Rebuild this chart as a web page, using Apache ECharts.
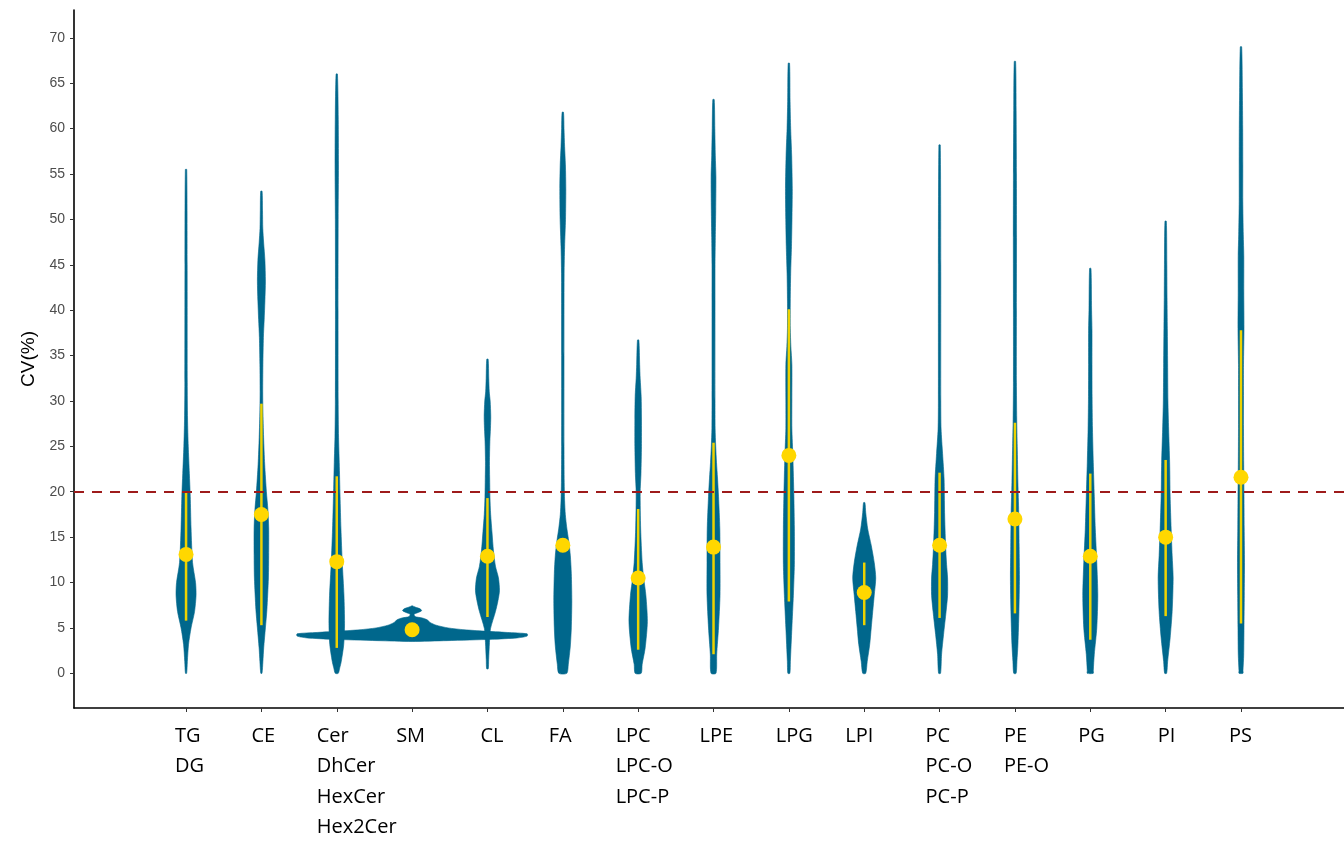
<!DOCTYPE html>
<html>
<head>
<meta charset="utf-8">
<script src="https://cdn.jsdelivr.net/npm/echarts@6/dist/echarts.min.js"></script>
<style>html,body{margin:0;padding:0;background:#fff;overflow:hidden}#chart{width:1344px;height:843px}</style>
</head>
<body>
<div id="chart"></div>
<script>
// ---------------- DATA ----------------
const categories = ['TG\nDG', 'CE', 'Cer\nDhCer\nHexCer\nHex2Cer', 'SM', 'CL', 'FA', 'LPC\nLPC-O\nLPC-P', 'LPE', 'LPG', 'LPI', 'PC\nPC-O\nPC-P', 'PE\nPE-O', 'PG', 'PI', 'PS'];
const yTickValues = [0, 5, 10, 15, 20, 25, 30, 35, 40, 45, 50, 55, 60, 65, 70];
const thresholdCV = 20;

// violin density profiles: [CV value, relative density (half-width)]
const densityTG = [[0,0.6],[1.3,1.3],[3.2,2.5],[5,5],[6.8,8.5],[8.6,10],[10,9.5],[12.2,6.5],[16,5],[19.5,4.2],[22,3.3],[25,2.2],[28,1.5],[32,1.2],[45,1.1],[55.5,0.7]];
const densityCE = [[0,0.6],[1.3,1.5],[2.8,2.3],[5,4],[7,5.5],[10.5,7],[13,7.3],[16,7.3],[18,6.5],[20,5],[23,3.3],[26,2.2],[29,1.5],[31,1.3],[34,1.5],[37,2],[39,2.8],[41,3.5],[43.2,4],[45.5,3.5],[47.5,2.2],[49,1.4],[51,1.1],[53.1,0.7]];
const densityCer = [[0,1.5],[0.6,3],[1.3,4.5],[3.2,7],[5.5,7.8],[8.6,7.2],[12.2,5.5],[15.9,4.2],[19.5,3.3],[23.2,2.5],[26,1.8],[30,1.4],[40,1.3],[50,1.4],[56,1.7],[61,1.5],[66,0.7]];
const densitySM = [[3.5,0],[3.6,35],[3.75,80],[3.9,105],[4.1,115],[4.35,115],[4.5,95],[4.65,72],[4.8,52],[5.0,36],[5.3,24],[5.6,18],[5.9,15],[6.1,10],[6.25,3],[6.5,2],[6.7,6],[6.9,9.5],[7.1,8],[7.3,3],[7.45,0]];
const densityCL = [[0.5,0.8],[1.5,1.2],[3.4,2],[4.9,3],[6.8,8],[8,10.5],[9.1,12],[10.5,11],[11.8,8],[13.5,6],[15.6,4.5],[17.5,3.2],[19.4,2.5],[21.5,2.2],[23.3,2],[25.5,2.4],[27,3],[28.3,3.3],[30,2.7],[31,1.8],[32.5,1.3],[34.6,0.7]];
const densityFA = [[0,4],[1,5.5],[3,7.5],[5,8.5],[8,9],[11,8.5],[13,7.5],[14.5,6],[16,4],[17.5,2.5],[19,1.8],[21,1.4],[25,1.2],[35,1.2],[44,1.3],[47,1.8],[50,2.7],[53.4,3],[56,2.6],[58,1.8],[60,1.2],[61.8,0.7]];
const densityLPC = [[0,3],[1,4],[2.8,7],[5.7,9.2],[8.6,7.7],[10.5,5.5],[12.2,4],[15.9,2.5],[19.9,2],[22,2.8],[25,3.3],[28,3.3],[30.5,3],[32.5,2],[34,1.5],[36.7,0.7]];
const densityLPE = [[0,2.5],[2.1,3.2],[5,5],[8.6,6.5],[12.2,6.5],[15.9,6.3],[19.5,5],[21.5,4],[23.2,3],[25,2.2],[27,1.6],[30,1.5],[41,1.5],[45,1.5],[48,1.8],[51,2.2],[54.7,2.4],[57,1.8],[60,1.3],[63.2,0.7]];
const densityLPG = [[0,1],[1.3,1.5],[5,3],[8.6,4.5],[12,5.5],[16,5.5],[19.5,5],[23.9,4],[27,3],[30,3],[34,3],[36,2],[38,1.4],[41,1.4],[44,1.8],[47,2.6],[50,3.1],[53.4,3.4],[57,2.8],[60,1.8],[63,1.2],[67.2,0.7]];
const densityLPI = [[0,1.5],[1.3,3],[3.2,5.5],[5,7],[6.8,8.5],[8.6,10],[10.5,11.5],[12.2,10],[14.1,7],[15.9,3.5],[17.7,1.5],[18.8,0.7]];
const densityPC = [[0,1],[2.1,2],[4.3,4],[6.8,6.5],[8.6,8],[10.5,8],[12,7],[14.1,6],[17.7,5],[21.4,4.5],[24.2,3],[26.9,1.5],[30,1.2],[45,1.2],[58.2,0.7]];
const densityPE = [[0,1.2],[1.3,2],[3.2,3],[6.8,4],[10.5,4.5],[14,4.2],[17.7,3.8],[21,3],[25,2.3],[28,1.8],[32,1.5],[40,1.5],[48,1.6],[55,1.5],[62,1.2],[67.4,0.7]];
const densityPG = [[0,3],[0.3,3],[2.1,4],[5,6.5],[8.6,7.5],[12.2,6.5],[15.9,5],[19.5,4],[23.2,3],[26.9,2.2],[30.5,1.8],[34,1.7],[37.8,1.7],[40,1.3],[44.6,0.7]];
const densityPI = [[0,1],[1.3,2],[3.9,4.5],[6.8,6.5],[10.5,7.5],[13,6.5],[15.9,5.5],[19.5,4.5],[23.2,4],[26.9,3],[30,2.3],[34.1,2],[38,1.7],[41.4,1.4],[45,1.2],[49.8,0.7]];
const densityPS = [[0,2],[0.3,2],[2,2.7],[5,3],[8.6,3.3],[12.2,3.5],[16,3.2],[19.5,3],[23,2.7],[27,2.5],[31,2.5],[34,2.5],[38,3],[42,2.8],[46,2.8],[48.3,2.3],[52,1.8],[56,1.8],[60,1.7],[64,1.4],[69,0.7]];

// summary per class: centre point and range bar (null = not shown)
const centerCV = [13.1, 17.5, 12.3, 4.8, 12.9, 14.1, 10.5, 13.9, 24.0, 8.9, 14.1, 17.0, 12.9, 15.0, 21.6];
const rangeLowCV = [5.8, 5.3, 2.8, null, 6.2, null, 2.6, 2.1, 7.9, 5.3, 6.1, 6.6, 3.7, 6.3, 5.5];
const rangeHighCV = [20.0, 29.7, 21.7, null, 19.3, null, 18.1, 25.4, 40.1, 12.2, 22.1, 27.6, 22.0, 23.5, 37.8];

const densities = [densityTG, densityCE, densityCer, densitySM, densityCL, densityFA, densityLPC, densityLPE, densityLPG, densityLPI, densityPC, densityPE, densityPG, densityPI, densityPS];

// ---------------- LAYOUT ----------------
const indices = categories.map((c, i) => i);
const labelShift = [0.146, 0.133, 0.266, 0.212, 0.093, 0.186, 0.299, 0.186, 0.173, 0.252, 0.186, 0.146, 0.159, 0.106, 0.159];
const labelPositions = indices.map(i => +(i - labelShift[i]).toFixed(3));
const densityUnit = 1 / 75.33; // density unit expressed in category units

const violinColor = '#00678C';
const yellowDot = '#FFD700';
const yellowBar = '#EDD200';

function renderViolin(params, api) {
  const i = api.value(0);
  const prof = densities[i];
  const px = api.size([densityUnit, 0])[0];
  const right = [], left = [];
  prof.forEach(function (p) {
    const c = api.coord([i, p[0]]);
    right.push([c[0] + p[1] * px, c[1]]);
    left.push([c[0] - p[1] * px, c[1]]);
  });
  const pts = right.concat(left.reverse());
  return {
    type: 'polygon',
    shape: { points: pts, smooth: 0.25 },
    style: { fill: violinColor, stroke: violinColor, lineWidth: 0.6 }
  };
}

function renderBar(params, api) {
  const i = api.value(0);
  const a = api.coord([i, api.value(1)]);
  const b = api.coord([i, api.value(2)]);
  return {
    type: 'line',
    shape: { x1: a[0], y1: a[1], x2: b[0], y2: b[1] },
    style: { stroke: yellowBar, lineWidth: 2.5 }
  };
}

const dom = document.getElementById('chart');
const chart = echarts.init(dom, null, { renderer: 'canvas', width: 1344, height: 843 });
chart.setOption({
  animation: false,
  backgroundColor: '#ffffff',
  grid: { left: 74, right: 0, top: 10, bottom: 129, containLabel: false },
  xAxis: {
    type: 'value',
    min: -1.487,
    max: 15.367,
    splitLine: { show: false },
    axisLine: { show: true, onZero: false, lineStyle: { color: '#000', width: 1.6 } },
    axisTick: { show: true, customValues: indices, length: 4, lineStyle: { color: '#333', width: 1 } },
    axisLabel: {
      customValues: labelPositions,
      formatter: function (v) {
        const k = labelPositions.findIndex(p => Math.abs(p - v) < 1e-6);
        return k >= 0 ? categories[k] : '';
      },
      align: 'left',
      verticalAlign: 'top',
      fontFamily: 'Open Sans',
      fontSize: 20,
      lineHeight: 30.5,
      color: '#000',
      margin: 13
    }
  },
  yAxis: {
    type: 'value',
    min: -3.82,
    max: 73.06,
    splitLine: { show: false },
    axisLine: { show: true, onZero: false, lineStyle: { color: '#000', width: 1.6 } },
    axisTick: { show: true, customValues: yTickValues, length: 4, lineStyle: { color: '#333', width: 1 } },
    axisLabel: { customValues: yTickValues, color: '#4D4D4D', fontSize: 14, fontFamily: 'Liberation Sans', margin: 9 },
    name: 'CV(%)',
    nameLocation: 'middle',
    nameGap: 30,
    nameTextStyle: { fontSize: 19, color: '#000', fontFamily: 'Liberation Sans' }
  },
  series: [
    {
      type: 'custom',
      name: 'violin',
      renderItem: renderViolin,
      data: indices.map(i => [i, 0]),
      encode: { x: 0, y: 1 },
      clip: false,
      silent: true,
      z: 2
    },
    {
      type: 'custom',
      name: 'range',
      renderItem: renderBar,
      data: indices.filter(i => rangeLowCV[i] !== null).map(i => [i, rangeLowCV[i], rangeHighCV[i]]),
      encode: { x: 0, y: [1, 2] },
      silent: true,
      z: 3
    },
    {
      type: 'scatter',
      name: 'centre',
      data: indices.map(i => [i, centerCV[i]]),
      symbol: 'circle',
      symbolSize: 15,
      itemStyle: { color: yellowDot, opacity: 1 },
      silent: true,
      z: 4
    },
    {
      type: 'line',
      name: 'threshold',
      data: [],
      silent: true,
      z: 6,
      markLine: {
        silent: true,
        symbol: ['none', 'none'],
        label: { show: false },
        lineStyle: { color: '#9E1B1B', type: [10, 8], width: 2 },
        data: [{ yAxis: thresholdCV }],
        z: 6
      }
    }
  ]
});
</script>
</body>
</html>
